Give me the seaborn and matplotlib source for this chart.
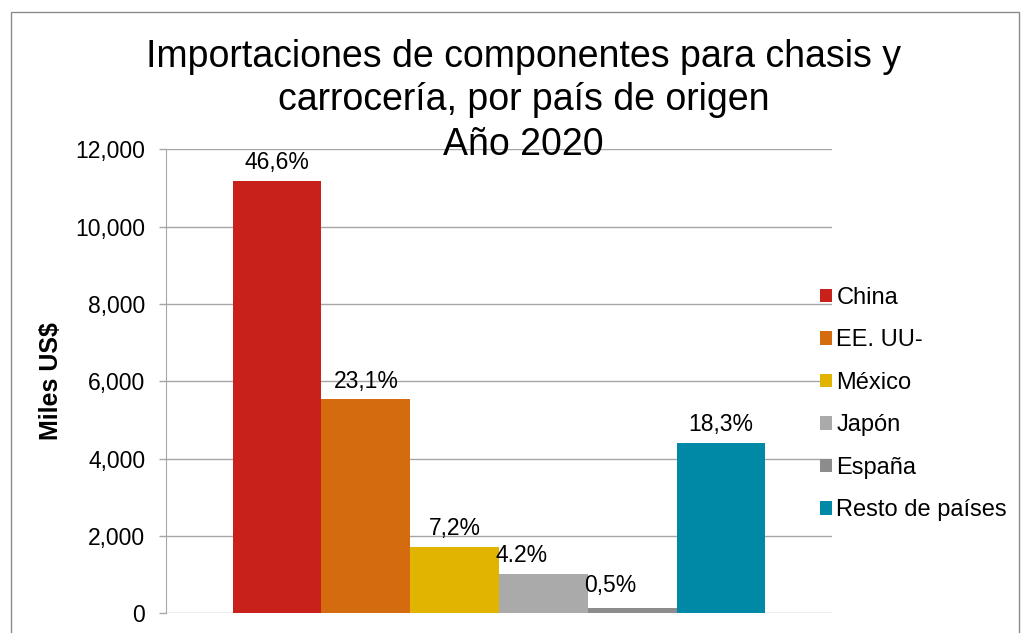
import matplotlib
matplotlib.use("Agg")
import matplotlib.pyplot as plt
import matplotlib.patches as mpatches
from matplotlib.ticker import StrMethodFormatter
import seaborn as sns
import pandas as pd

# datos (miles US$)
paises = ["China", "EE. UU-", "México", "Japón", "España", "Resto de países"]
valores = [11180, 5530, 1720, 1010, 130, 4400]
etiquetas = ["46,6%", "23,1%", "7,2%", "4.2%", "0,5%", "18,3%"]
colores = ["#C8201A", "#D46B0E", "#E0B400", "#AAAAAA", "#8C8C8C", "#0089A6"]
titulo = ["Importaciones de componentes para chasis y",
          "carrocería, por país de origen",
          "Año 2020"]

df = pd.DataFrame({"grupo": ["2020"] * len(paises), "pais": paises, "valor": valores})

sns.set_style("white")
plt.rcParams["font.family"] = ["Liberation Sans", "DejaVu Sans"]
plt.rcParams["text.color"] = "black"
plt.rcParams["axes.labelcolor"] = "black"
plt.rcParams["ytick.labelcolor"] = "black"

fig = plt.figure(figsize=(10.21, 6.33), dpi=100)
ax = fig.add_axes([0.1626, 0.0311, 0.6523, 0.7330])

sns.barplot(data=df, x="grupo", y="valor", hue="pais", palette=colores,
            width=0.8, saturation=1, linewidth=0, ax=ax, legend=True)

# etiquetas de porcentaje sobre cada barra (desplazamiento en puntos)
dx = [0, 0, 0, -16, -16, 0]
dy = [5, 5, 5, 5, 8, 5]
for cont, lab, ox, oy in zip(ax.containers, etiquetas, dx, dy):
    bar = cont.patches[0]
    ax.annotate(lab, (bar.get_x() + bar.get_width() / 2, bar.get_height()),
                xytext=(ox, oy), textcoords="offset points",
                ha="center", va="bottom", fontsize=16.5)

ax.set_ylim(0, 12000)
ax.set_yticks(range(0, 12001, 2000))
ax.yaxis.set_major_formatter(StrMethodFormatter("{x:,.0f}"))
ax.set_xlim(-0.5, 0.5)
ax.set_xticks([])
ax.set_xlabel("")
ax.set_ylabel("Miles US$", fontsize=18, fontweight="bold")
ax.yaxis.set_label_coords(-0.1545, 0.5)
ax.grid(axis="y", color="#A6A6A6", linewidth=1)
ax.set_axisbelow(True)
ax.tick_params(axis="y", labelsize=16.5, length=5, width=1, color="#A6A6A6",
               pad=10, left=True)
for side in ["top", "right", "bottom"]:
    ax.spines[side].set_visible(False)
ax.spines["left"].set_color("#A6A6A6")

sns.move_legend(ax, "upper left", bbox_to_anchor=(0.803, 0.547),
                bbox_transform=fig.transFigure, frameon=False, title=None,
                fontsize=17, handlelength=0.5, handleheight=0.5,
                handletextpad=0.2, labelspacing=0.87, borderaxespad=0,
                borderpad=0)

# título en tres líneas (líneas de base en píxeles desde arriba)
for linea, base in zip(titulo, [67, 110, 155]):
    fig.text(0.513, 1 - base / 633, linea, ha="center", va="baseline", fontsize=27)

fig.patches.append(mpatches.Rectangle((11 / 1021, -0.05), 1008 / 1021, 1.05 - 12 / 633,
                                      transform=fig.transFigure, fill=False,
                                      edgecolor="#8C8C8C", linewidth=1))

fig.savefig("out.png", dpi=100)
